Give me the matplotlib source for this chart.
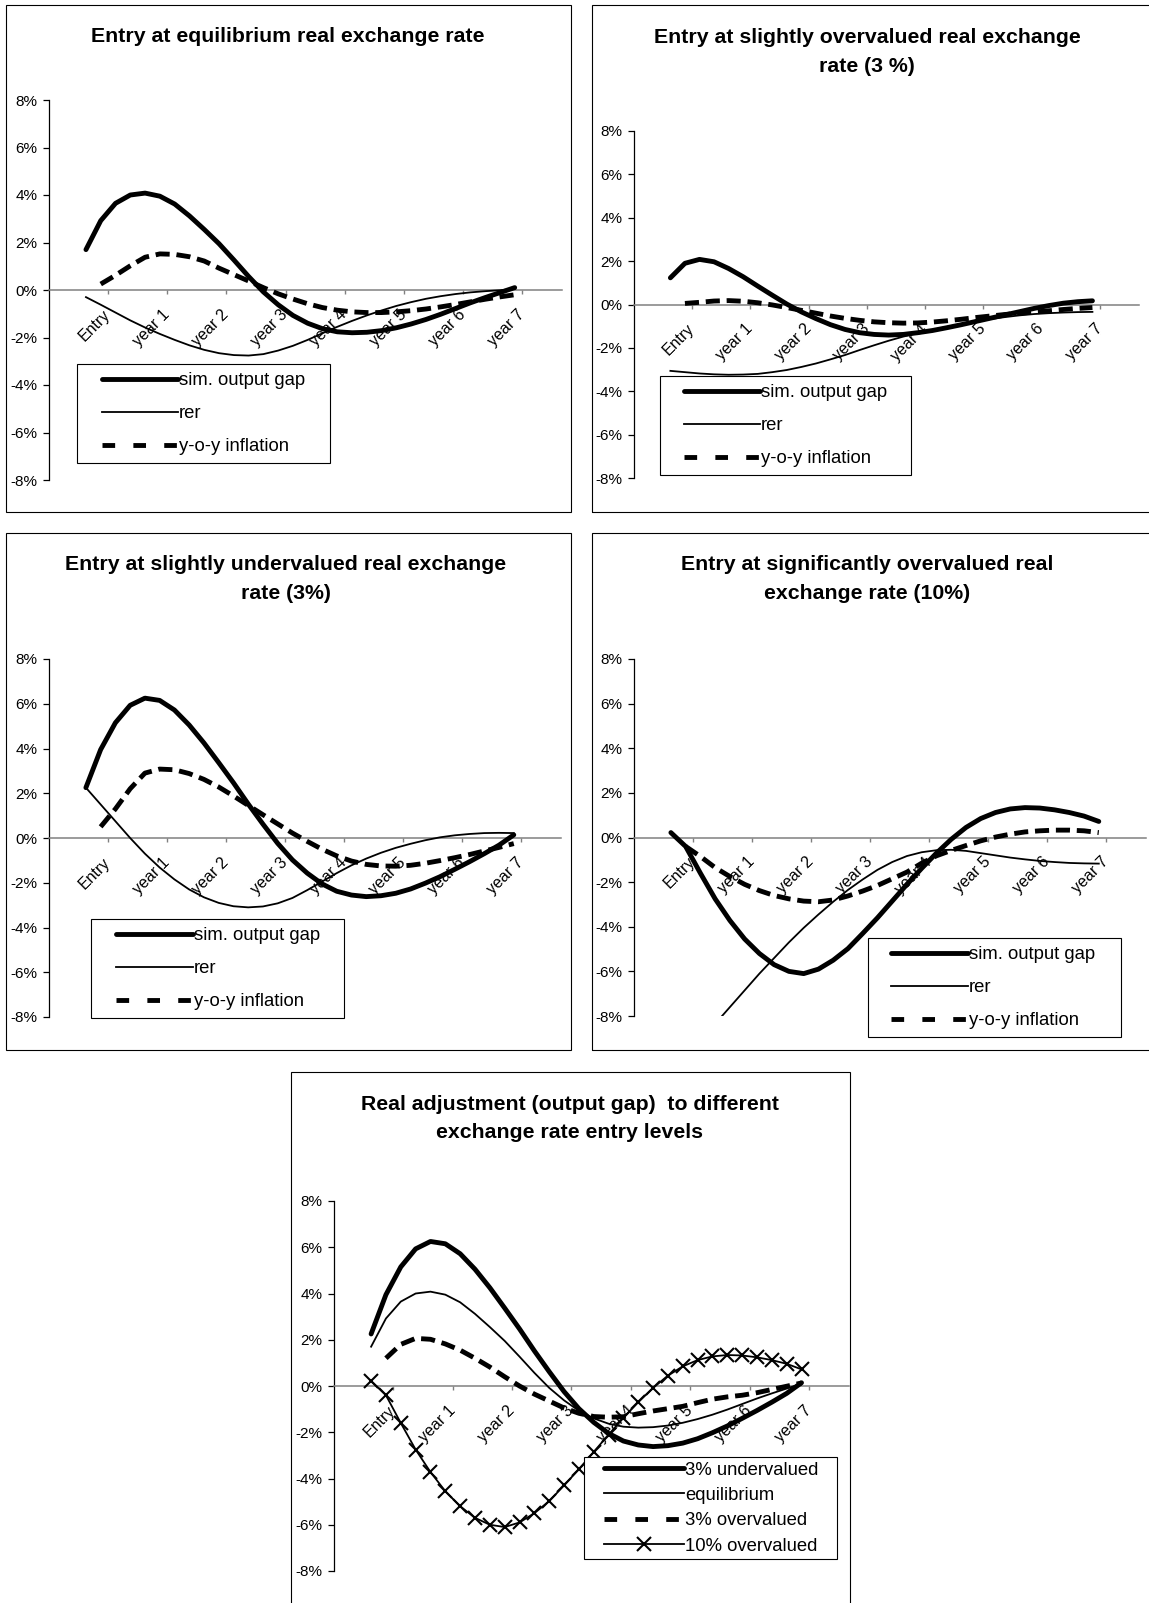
import numpy as np
import matplotlib
matplotlib.use("Agg")
import matplotlib.pyplot as plt
from matplotlib.lines import Line2D
from matplotlib.patches import Rectangle
from matplotlib.legend_handler import HandlerLine2D
from matplotlib.ticker import FuncFormatter

plt.rcParams['font.family'] = ['Liberation Sans', 'DejaVu Sans']

nan = np.nan

# ---------------- data (percent, quarterly observations) ----------------
tick_labels = ["Entry", "year 1", "year 2", "year 3", "year 4", "year 5", "year 6", "year 7"]

# Entry at equilibrium real exchange rate
eq_gap = [1.7, 2.92, 3.65, 4.0, 4.08, 3.95, 3.62, 3.12, 2.55, 1.95, 1.27, 0.57, -0.08, -0.62, -1.07,
          -1.4, -1.63, -1.76, -1.8, -1.78, -1.71, -1.59, -1.43, -1.24, -1.02, -0.78, -0.54, -0.32, -0.11, 0.1]
eq_rer = [-0.3, -0.62, -0.95, -1.28, -1.58, -1.85, -2.1, -2.33, -2.52, -2.66, -2.74, -2.76, -2.7, -2.55, -2.35,
          -2.1, -1.82, -1.55, -1.3, -1.07, -0.86, -0.67, -0.51, -0.37, -0.26, -0.17, -0.1, -0.05, -0.01, 0.05]
eq_inf = [nan, 0.25, 0.62, 1.02, 1.38, 1.52, 1.5, 1.4, 1.22, 0.92, 0.65, 0.38, 0.1, -0.16, -0.38,
          -0.58, -0.74, -0.85, -0.92, -0.95, -0.95, -0.92, -0.87, -0.8, -0.71, -0.61, -0.5, -0.39, -0.29, -0.2]

# Entry at slightly overvalued real exchange rate (3 %)
ov3_gap = [1.23, 1.9, 2.08, 1.97, 1.66, 1.28, 0.85, 0.43, 0.02, -0.34, -0.65, -0.93, -1.15, -1.3, -1.38,
           -1.41, -1.38, -1.3, -1.2, -1.07, -0.93, -0.78, -0.63, -0.48, -0.33, -0.18, -0.05, 0.06, 0.13, 0.17]
ov3_rer = [-3.06, -3.12, -3.18, -3.22, -3.24, -3.23, -3.2, -3.12, -3.02, -2.88, -2.72, -2.53, -2.33, -2.1, -1.88,
           -1.67, -1.48, -1.32, -1.17, -1.03, -0.9, -0.78, -0.67, -0.58, -0.5, -0.44, -0.4, -0.37, -0.35, -0.34]
ov3_inf = [nan, 0.05, 0.1, 0.16, 0.18, 0.15, 0.08, -0.02, -0.14, -0.27, -0.4, -0.53, -0.64, -0.73, -0.8,
           -0.84, -0.86, -0.85, -0.81, -0.75, -0.68, -0.6, -0.53, -0.46, -0.4, -0.35, -0.29, -0.23, -0.18, -0.14]

# Entry at slightly undervalued real exchange rate (3%)
un3_gap = [2.25, 3.95, 5.15, 5.93, 6.25, 6.15, 5.72, 5.05, 4.25, 3.37, 2.47, 1.52, 0.62, -0.24, -0.98,
           -1.57, -2.05, -2.38, -2.55, -2.62, -2.58, -2.47, -2.28, -2.02, -1.73, -1.4, -1.06, -0.7, -0.32, 0.14]
un3_rer = [2.25, 1.5, 0.75, 0.0, -0.7, -1.32, -1.85, -2.3, -2.65, -2.9, -3.05, -3.1, -3.06, -2.92, -2.68,
           -2.33, -1.95, -1.57, -1.22, -0.92, -0.66, -0.44, -0.26, -0.1, 0.03, 0.12, 0.18, 0.22, 0.23, 0.22]
un3_inf = [nan, 0.5, 1.3, 2.2, 2.9, 3.08, 3.05, 2.88, 2.62, 2.28, 1.88, 1.46, 1.04, 0.63, 0.22,
           -0.15, -0.5, -0.8, -1.03, -1.18, -1.25, -1.26, -1.22, -1.13, -1.01, -0.88, -0.74, -0.58, -0.42, -0.25]

# Entry at significantly overvalued real exchange rate (10%)
ov10_gap = [0.22, -0.4, -1.6, -2.75, -3.72, -4.55, -5.2, -5.7, -6.0, -6.1, -5.9, -5.5, -4.98, -4.3, -3.6,
            -2.85, -2.1, -1.38, -0.7, -0.08, 0.45, 0.85, 1.12, 1.28, 1.34, 1.32, 1.24, 1.12, 0.96, 0.72]
ov10_rer = [-10.5, -9.8, -9.1, -8.35, -7.6, -6.85, -6.1, -5.4, -4.7, -4.05, -3.45, -2.88, -2.35, -1.88, -1.45,
            -1.1, -0.83, -0.66, -0.57, -0.55, -0.6, -0.7, -0.8, -0.9, -0.98, -1.05, -1.1, -1.14, -1.16, -1.17]
ov10_inf = [nan, -0.4, -0.85, -1.35, -1.75, -2.1, -2.38, -2.6, -2.75, -2.85, -2.88, -2.8, -2.62, -2.4, -2.15,
            -1.85, -1.55, -1.15, -0.82, -0.58, -0.36, -0.15, 0.02, 0.15, 0.25, 0.3, 0.33, 0.33, 0.3, 0.22]

# Summary chart: 3% overvalued output gap as drawn there
sum_ov3_gap = [nan, 1.2, 1.8, 2.06, 2.02, 1.82, 1.55, 1.2, 0.82, 0.4, 0.0, -0.35, -0.65, -0.95, -1.18,
               -1.32, -1.35, -1.33, -1.2, -1.08, -0.98, -0.88, -0.72, -0.57, -0.47, -0.4, -0.29, -0.15, -0.01, 0.13]

series_labels = ["sim. output gap", "rer", "y-o-y inflation"]
summary_labels = ["3% undervalued", "equilibrium", "3% overvalued", "10% overvalued"]

# ---------------- layout helpers ----------------
W, H, DPI = 1149, 1603, 100
fig = plt.figure(figsize=(W / DPI, H / DPI), dpi=DPI)
fig.patch.set_facecolor('white')

FIRST_CAT = 2.5       # category position of first observation
XMAX = 34.7
THICK, THIN = 3.5, 1.3
INF_DASH = (2.9, 1.4)
LEG_DASH = (2.6, 3.75)
TITLE_FS = 15.3
LEG_FS = 13.3


def fx(px):
    return px / W


def fy(py):
    return 1 - py / H


def add_box(x0, y0, x1, y1):
    fig.add_artist(Rectangle((fx(x0), fy(y1)), fx(x1) - fx(x0), fy(y0) - fy(y1),
                             transform=fig.transFigure, fill=False, edgecolor='black',
                             linewidth=0.8, zorder=0))


class PadHandler(HandlerLine2D):
    def __init__(self, lpad, **kw):
        super().__init__(**kw)
        self.lpad = lpad

    def get_xdata(self, legend, xdescent, ydescent, width, height, fontsize):
        xd, xm = super().get_xdata(legend, xdescent, ydescent, width, height, fontsize)
        xd = [xd[0] + self.lpad, xd[-1]]
        return xd, [0.5 * (xd[0] + xd[1])]


def make_axes(left, right, top, bottom):
    ax = fig.add_axes([fx(left), fy(bottom), fx(right) - fx(left), fy(top) - fy(bottom)])
    ax.set_xlim(0, XMAX)
    ax.set_ylim(-8, 8)
    ax.patch.set_visible(False)
    for s in ['top', 'right']:
        ax.spines[s].set_visible(False)
    ax.spines['bottom'].set_position(('data', 0))
    ax.spines['bottom'].set_color('#808080')
    ax.spines['bottom'].set_linewidth(1.1)
    ax.spines['left'].set_color('black')
    ax.spines['left'].set_linewidth(0.9)
    ax.set_yticks(np.arange(-8, 9, 2))
    ax.yaxis.set_major_formatter(FuncFormatter(lambda v, p: f"{int(round(v))}%"))
    ax.set_xticks(np.arange(4, 4 * len(tick_labels) + 1, 4))
    ax.set_xticklabels(tick_labels, rotation=45, ha='right', va='center', rotation_mode='anchor')
    ax.tick_params(axis='x', direction='out', length=3, width=1, color='#808080', pad=13,
                   labelsize=11.5, labelcolor='black')
    ax.tick_params(axis='y', direction='out', length=4, width=0.9, color='black', pad=4.5,
                   labelsize=11, labelcolor='black')
    return ax


def xs(vals):
    return np.arange(len(vals)) + FIRST_CAT


def add_legend(ax, handles, labels, leg_rect, handle_x, labelspacing, borderpad):
    x0, y0, x1, y1 = leg_rect
    fs_px = LEG_FS * DPI / 72
    start_px = handle_x[0] - x0 - borderpad * fs_px
    lpad_pt = start_px * 72 / DPI
    hlen = (start_px + handle_x[1] - handle_x[0]) / fs_px
    leg = ax.legend(handles, labels, loc='upper left',
                    bbox_to_anchor=(fx(x0), fy(y1), fx(x1) - fx(x0), fy(y0) - fy(y1)),
                    bbox_transform=fig.transFigure, mode='expand', borderaxespad=0,
                    frameon=True, fancybox=False, shadow=False, edgecolor='black', framealpha=1,
                    fontsize=LEG_FS, handlelength=hlen, handletextpad=0.05,
                    labelspacing=labelspacing, borderpad=borderpad,
                    handler_map={Line2D: PadHandler(lpad_pt)})
    leg.get_frame().set_linewidth(0.8)
    leg.set_zorder(10)
    return leg


def panel(box, ax_rect, title, title_xy, gap, rer, inf, leg_rect, handle_x):
    add_box(*box)
    fig.text(fx(title_xy[0]), fy(title_xy[1]), title, ha='center', va='center',
             fontsize=TITLE_FS, fontweight='bold', linespacing=1.64)
    ax = make_axes(*ax_rect)
    ax.plot(xs(gap), gap, color='black', lw=THICK, solid_capstyle='round', solid_joinstyle='round', zorder=4)
    ax.plot(xs(rer), rer, color='black', lw=THIN, solid_joinstyle='round', zorder=3)
    ax.plot(xs(inf), inf, color='black', lw=THICK, dashes=INF_DASH, dash_capstyle='butt', zorder=3)
    handles = [Line2D([], [], color='black', lw=THICK, solid_capstyle='round'),
               Line2D([], [], color='black', lw=THIN),
               Line2D([], [], color='black', lw=THICK, dashes=LEG_DASH, dash_capstyle='butt')]
    add_legend(ax, handles, series_labels, leg_rect, handle_x, labelspacing=0.86, borderpad=0.45)
    return ax


# ---------------- panels ----------------
panel((6, 5, 571, 512), (49, 562, 100, 480),
      "Entry at equilibrium real exchange rate", (288, 37),
      eq_gap, eq_rer, eq_inf, (77, 364, 330, 463), (102, 178))

panel((592, 5, 1165, 512), (634, 1139, 131, 478),
      "Entry at slightly overvalued real exchange\nrate (3 %)", (867, 52),
      ov3_gap, ov3_rer, ov3_inf, (660, 376, 911, 475), (684, 760))

panel((6, 533, 571, 1050), (49, 561, 659, 1017),
      "Entry at slightly undervalued real exchange\nrate (3%)", (286, 579),
      un3_gap, un3_rer, un3_inf, (91, 919, 344, 1017), (116, 193))

panel((592, 533, 1165, 1050), (634, 1146, 659, 1016),
      "Entry at significantly overvalued real\nexchange rate (10%)", (867, 579),
      ov10_gap, ov10_rer, ov10_inf, (868, 938, 1121, 1037), (891, 968))

# ---------------- summary chart ----------------
add_box(291, 1072, 850, 1650)
fig.text(fx(570), fy(1118), "Real adjustment (output gap)  to different\nexchange rate entry levels",
         ha='center', va='center', fontsize=TITLE_FS, fontweight='bold', linespacing=1.6)
axb = make_axes(334, 849, 1201, 1571)
axb.plot(xs(un3_gap), un3_gap, color='black', lw=THICK, solid_capstyle='round', solid_joinstyle='round', zorder=4)
axb.plot(xs(eq_gap), eq_gap, color='black', lw=THIN, zorder=3)
axb.plot(xs(sum_ov3_gap), sum_ov3_gap, color='black', lw=THICK, dashes=INF_DASH, dash_capstyle='butt', zorder=3)
axb.plot(xs(ov10_gap), ov10_gap, color='black', lw=THIN, marker='x', markersize=10, markeredgewidth=1.5, zorder=3)
hb = [Line2D([], [], color='black', lw=THICK, solid_capstyle='round'),
      Line2D([], [], color='black', lw=THIN),
      Line2D([], [], color='black', lw=THICK, dashes=LEG_DASH, dash_capstyle='butt'),
      Line2D([], [], color='black', lw=THIN, marker='x', markersize=10, markeredgewidth=1.5)]
add_legend(axb, hb, summary_labels, (584, 1457, 837, 1560), (604, 684), labelspacing=0.45, borderpad=0.25)

fig.savefig("out.png", dpi=DPI, facecolor='white')
